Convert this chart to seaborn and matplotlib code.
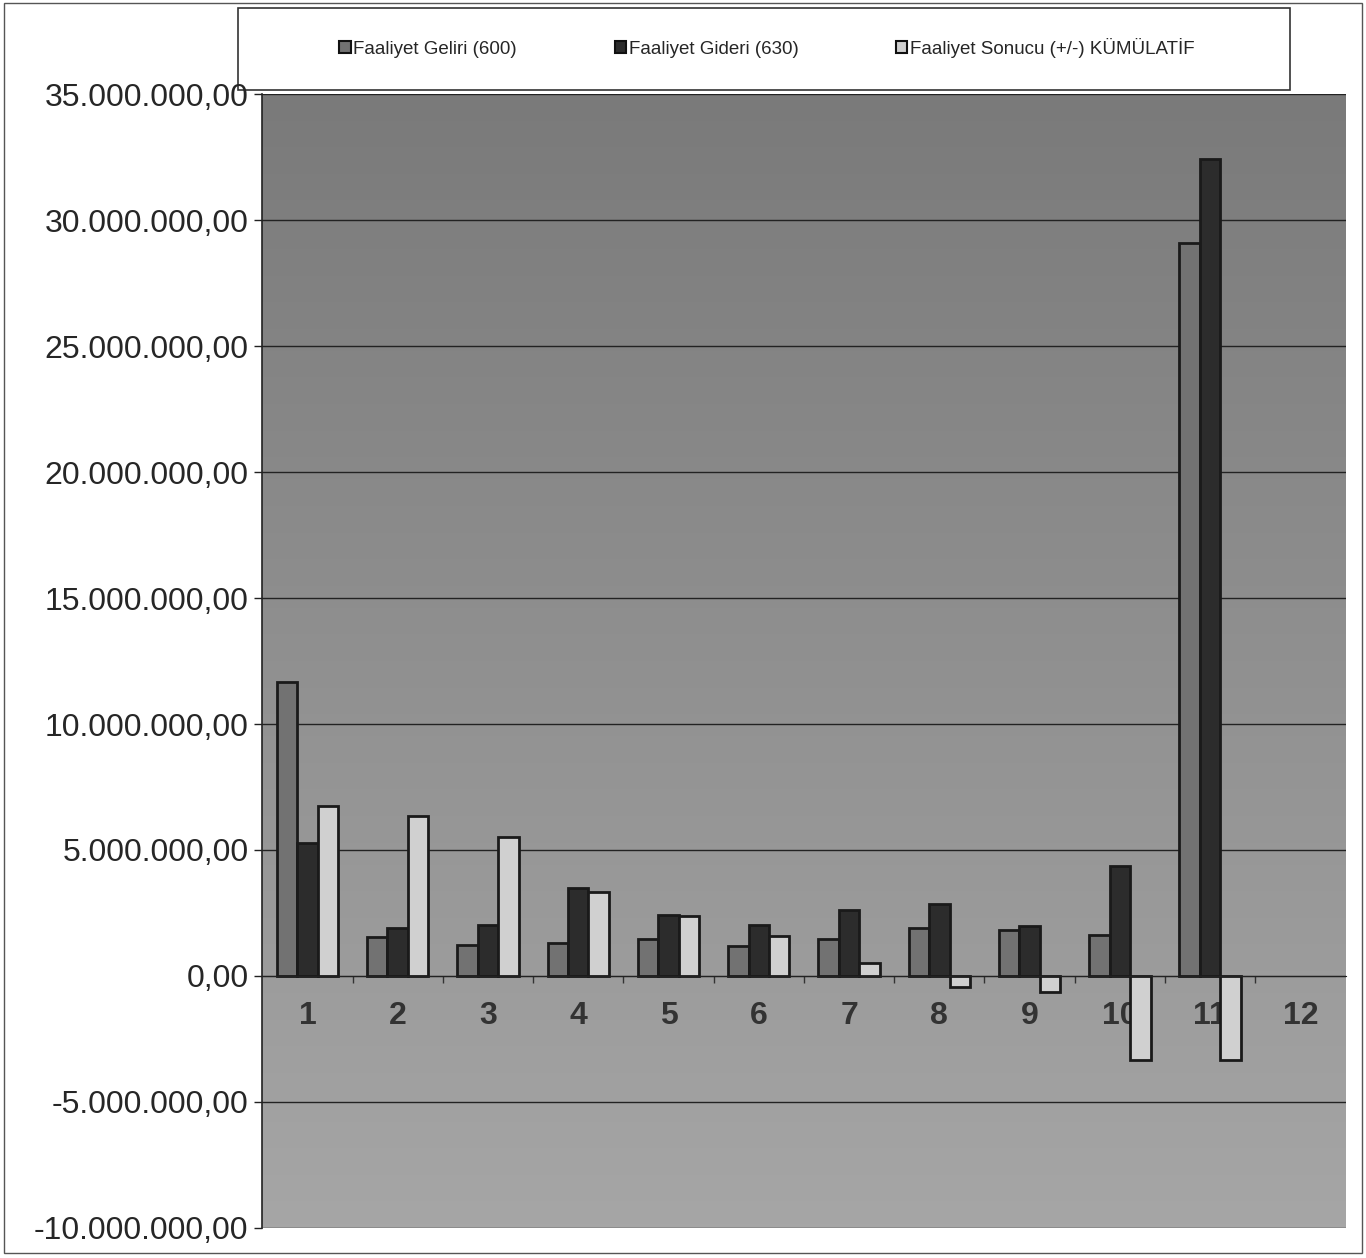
import numpy as np
import pandas as pd
import matplotlib.pyplot as plt
import seaborn as sns
from matplotlib.ticker import FuncFormatter, MultipleLocator, FixedLocator
from matplotlib.colors import LinearSegmentedColormap
from matplotlib.patches import Rectangle

# aylar ve seriler
aylar = [str(i) for i in range(1, 13)]
seriler = ["Faaliyet Geliri (600)", "Faaliyet Gideri (630)", "Faaliyet Sonucu (+/-) KÜMÜLATİF"]

gelir = [11.65e6, 1.55e6, 1.23e6, 1.30e6, 1.47e6, 1.20e6, 1.48e6, 1.92e6, 1.82e6, 1.64e6, 29.1e6, 0]
gider = [5.28e6, 1.90e6, 2.02e6, 3.49e6, 2.42e6, 2.03e6, 2.60e6, 2.85e6, 2.00e6, 4.35e6, 32.45e6, 0]
sonuc = [6.75e6, 6.35e6, 5.52e6, 3.33e6, 2.38e6, 1.60e6, 0.50e6, -0.45e6, -0.65e6, -3.33e6, -3.33e6, 0]

veri = pd.DataFrame({
    "ay": aylar * 3,
    "seri": [seriler[0]] * 12 + [seriler[1]] * 12 + [seriler[2]] * 12,
    "deger": gelir + gider + sonuc,
})

renkler = {seriler[0]: "#727272", seriler[1]: "#2c2c2c", seriler[2]: "#d0d0d0"}

sns.set_style("white")
plt.rcParams["font.family"] = ["Liberation Sans", "DejaVu Sans"]

fig = plt.figure(figsize=(13.66, 12.58), dpi=100)
ax = fig.add_axes([0.192, 0.024, 0.793, 0.901])

# gri arka plan (üstte koyu, altta açık)
grad = np.linspace(0, 1, 256).reshape(-1, 1)
ax.imshow(grad, cmap=LinearSegmentedColormap.from_list("g", ["#7a7a7a", "#a6a6a6"]),
          extent=[-0.5, 11.5, -10e6, 35e6], aspect="auto", zorder=0, origin="upper")

sns.barplot(data=veri, x="ay", y="deger", hue="seri", palette=renkler, width=0.68,
            edgecolor="#1a1a1a", linewidth=2, ax=ax, legend=True, zorder=3)

# sıfır değerli çubuklar görünmesin
for p in ax.patches:
    if abs(p.get_height()) < 1:
        p.set_linewidth(0)

ax.set_xlim(-0.5, 11.5)
ax.set_ylim(-10e6, 35e6)
ax.yaxis.set_major_locator(MultipleLocator(5e6))
ax.yaxis.set_major_formatter(FuncFormatter(
    lambda v, p: f"{v:,.2f}".replace(",", "X").replace(".", ",").replace("X", ".")))
ax.grid(axis="y", color="#222222", linewidth=1, zorder=1)
ax.set_axisbelow(True)

for s in ["top", "right"]:
    ax.spines[s].set_visible(False)
ax.spines["left"].set_color("#222222")
ax.spines["left"].set_linewidth(1.2)
ax.spines["bottom"].set_position(("data", 0))
ax.spines["bottom"].set_color("#222222")
ax.spines["bottom"].set_zorder(4)

ax.xaxis.set_minor_locator(FixedLocator(np.arange(0.5, 11, 1)))
ax.tick_params(axis="y", labelsize=23, length=6, width=1, color="#222222", left=True, pad=4)
ax.tick_params(axis="x", which="major", labelsize=23, length=0, pad=18, labelcolor="#333333")
ax.tick_params(axis="x", which="minor", length=5, width=1, color="#333333", bottom=True)
for t in ax.get_xticklabels():
    t.set_fontweight("bold")
ax.set_xlabel("")
ax.set_ylabel("")

# lejant
h, l = ax.get_legend_handles_labels()
ax.get_legend().remove()
leg = fig.legend(h, l, loc="center", bbox_to_anchor=(0.5615, 0.962), ncol=3, fontsize=13.5,
                 frameon=False, handlelength=0.6, handleheight=0.6, handletextpad=0.15,
                 columnspacing=5.2, borderaxespad=0)
for ph in leg.legend_handles:
    ph.set_edgecolor("#111111")
    ph.set_linewidth(1.5)

fig.add_artist(Rectangle((238 / 1366, 1 - 90 / 1258), (1290 - 238) / 1366, 82 / 1258,
                         transform=fig.transFigure, facecolor="white",
                         edgecolor="#333333", linewidth=1.2, zorder=0))
fig.add_artist(Rectangle((0.003, 0.004), 0.994, 0.994, transform=fig.transFigure,
                         fill=False, edgecolor="#555555", linewidth=1))

plt.savefig("out.png", dpi=100)
